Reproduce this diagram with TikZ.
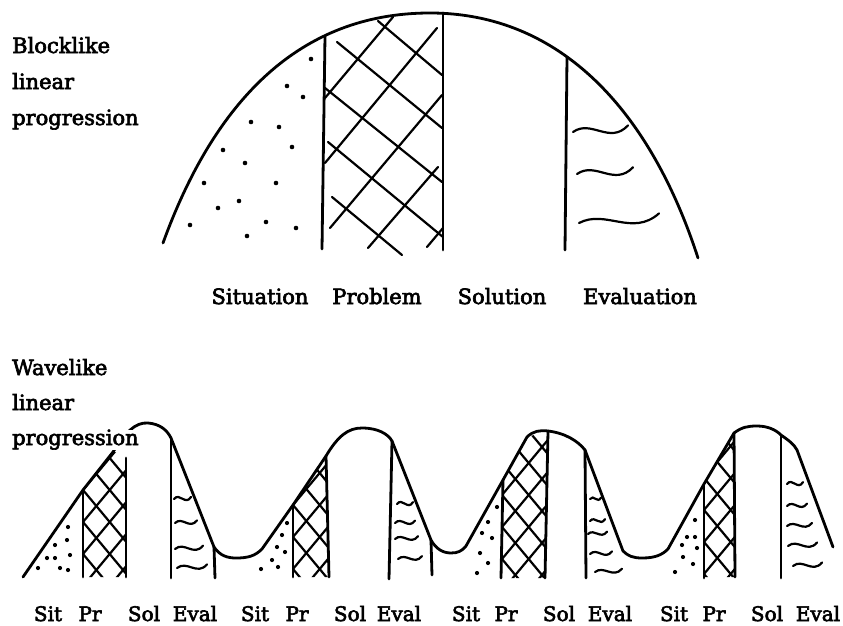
\documentclass[tikz,border=0pt]{standalone}
\usepackage{fontspec}
\setmainfont{DejaVu Serif}[FakeBold=3]
\newcommand\mytilde[4]{\draw[wav] (#1,#2) .. controls ({#1+#3/3},{#2-#4}) and ({#1+2*#3/3},{#2+#4}) .. ({#1+#3},{#2-0.12*#3});}
\newcommand\hatchlines[3]{\foreach \c in {#2,#3,...,760}{\draw[hatch] (#1,\c) -- ++(80,-96); \draw[hatch] (#1,\c) -- ++(80,96);}}
\begin{document}
\begin{tikzpicture}[x=1pt,y=-1pt,
  ln/.style={line width=2.8pt, line cap=round, line join=round},
  hatch/.style={line width=2.2pt, line cap=round},
  wav/.style={line width=2.2pt, line cap=round},
  lab/.style={font=\fontsize{21}{25}\selectfont, anchor=base west, inner sep=0pt},
  blab/.style={font=\fontsize{20}{24}\selectfont, anchor=base, inner sep=0pt}]
\useasboundingbox (0,0) rectangle (843,626);

% ---------------- Blocklike ----------------
\draw[ln] (163,243) .. controls (215,100) and (300,13) .. (430,13)
  .. controls (560,13) and (650,110) .. (698,258);
\coordinate (b1t) at (325,36);  \coordinate (b1b) at (322,249);
\coordinate (b2t) at (443,13);  \coordinate (b2b) at (443,250);
\coordinate (b3t) at (567,57);  \coordinate (b3b) at (565,250);
\draw[ln] (b1t) -- (b1b);
\draw[ln] (b2t) -- (b2b);
\draw[ln] (b3t) -- (b3b);

% dots (Situation)
\foreach \p in {(311,59),(287,86),(303,97),(251,122),(279,127),(223,150),(292,147),(245,163),(204,183),(276,183),(239,201),(218,208),(266,222),(296,228),(190,225),(247,236)}
  \fill \p circle (2.3);

% cross-hatch (Problem)
\draw[hatch] (378,21) -- (442,75);
\draw[hatch] (337,42) -- (442,128);
\draw[hatch] (325,88) -- (442,182);
\draw[hatch] (328,142) -- (443,237);
\draw[hatch] (332,197) -- (402,255);
\draw[hatch] (325,98) -- (393,17);
\draw[hatch] (325,163) -- (437,28);
\draw[hatch] (330,228) -- (442,95);
\draw[hatch] (368,248) -- (438,167);
\draw[hatch] (427,247) -- (443,228);

% waves (Evaluation)
\mytilde{573}{132}{55}{13}
\mytilde{577}{174}{56}{13}
\mytilde{579}{223}{80}{14}

\node[lab] (bl1) at (12,53) {Blocklike};
\node[lab] (bl2) at (12,89) {linear};
\node[lab] (bl3) at (12,125) {progression};

\node[blab, font=\fontsize{21}{25}\selectfont] (sit) at (260,304) {Situation};
\node[blab, font=\fontsize{21}{25}\selectfont] (pro) at (377,304) {Problem};
\node[blab, font=\fontsize{21}{25}\selectfont] (sol) at (502,304) {Solution};
\node[blab, font=\fontsize{21}{25}\selectfont] (eva) at (640,304) {Evaluation};

% ---------------- Wavelike ----------------
% hatching
\begin{scope}
  \clip (83,490) -- (113,452) -- (126,452) -- (126,577) -- (83,577) -- cycle;
  \hatchlines{83}{330}{362}
\end{scope}
\begin{scope}
  \clip (293,505) -- (326,456) -- (328,577) -- (293,577) -- cycle;
  \hatchlines{293}{345}{377}
\end{scope}
\begin{scope}
  \clip (503,480) -- (527,437) -- (548,431) -- (546,578) -- (502,578) -- cycle;
  \hatchlines{502}{335}{367}
\end{scope}
\begin{scope}
  \clip (704,484) -- (734,433) -- (735,577) -- (704,577) -- cycle;
  \hatchlines{704}{350}{382}
\end{scope}

% outline
\draw[ln] (23,577) -- (83,490) -- (113,452)
  .. controls (125,433) and (135,422) .. (148,423)
  .. controls (160,424) and (167,430) .. (171,438)
  -- (214,547)
  .. controls (220,556) and (228,558) .. (236,558)
  .. controls (248,558) and (255,556) .. (262,549)
  -- (293,505) -- (326,456)
  .. controls (338,436) and (348,428) .. (362,428)
  .. controls (378,428) and (388,434) .. (392,441)
  -- (431,540)
  .. controls (436,549) and (443,553) .. (451,553)
  .. controls (458,553) and (462,551) .. (466,546)
  -- (503,480) -- (527,437)
  .. controls (533,431) and (540,430) .. (548,431)
  .. controls (565,433) and (578,441) .. (585,450)
  -- (623,551)
  .. controls (628,556) and (633,558) .. (642,558)
  .. controls (655,558) and (662,555) .. (668,549)
  -- (704,484) -- (734,433)
  .. controls (742,427) and (748,426) .. (757,426)
  .. controls (768,426) and (776,430) .. (781,435)
  .. controls (788,440) and (794,444) .. (797,450)
  -- (833,547);

% dividers
\draw[ln] (83,490) -- (83,577);
\draw[ln] (126,458) -- (126,577);
\draw[ln] (171,438) -- (171,578);
\draw[ln] (214,547) -- (215,578);
\draw[ln] (293,505) -- (293,577);
\draw[ln] (326,456) -- (329,577);
\draw[ln] (392,441) -- (389,579);
\draw[ln] (431,540) -- (432,575);
\draw[ln] (503,480) -- (501,578);
\draw[ln] (548,431) -- (545,578);
\draw[ln] (585,450) -- (586,578);
\draw[ln] (704,484) -- (704,578);
\draw[ln] (734,433) -- (735,577);
\draw[ln] (781,435) -- (781,578);

% dots
\foreach \p in {(68,527),(67,540),(55,545),(47,558),(55,558),(70,555),(38,568),(60,568),(68,570),
                (287,523),(282,535),(277,547),(285,552),(272,560),(278,567),(261,569),
                (497,507),(488,522),(482,533),(492,538),(480,553),(488,563),(477,573),
                (695,520),(687,537),(695,537),(682,545),(697,548),(683,557),(693,564),(675,572)}
  \fill \p circle (2.1);

% tildes
\mytilde{174}{499}{17}{7}
\mytilde{175}{523}{22}{7}
\mytilde{175}{549}{28}{8}
\mytilde{177}{568}{30}{8}
\mytilde{397}{504}{16}{7}
\mytilde{395}{523}{20}{7}
\mytilde{395}{539}{23}{7}
\mytilde{398}{559}{24}{7}
\mytilde{590}{499}{11}{5}
\mytilde{590}{521}{15}{6}
\mytilde{588}{534}{19}{6}
\mytilde{590}{554}{22}{7}
\mytilde{595}{572}{27}{7}
\mytilde{787}{484}{16}{7}
\mytilde{787}{506}{20}{7}
\mytilde{787}{526}{25}{7}
\mytilde{788}{546}{29}{8}
\mytilde{793}{566}{29}{8}

\node[lab] (wl1) at (12,375) {Wavelike};
\node[lab] (wl2) at (12,410) {linear};
\node[lab, fill=white] (wl3) at (12,445) {progression};

% bottom labels
\foreach \x/\t [count=\i] in {48/Sit,90/Pr,144/Sol,195/Eval,255/Sit,297/Pr,350/Sol,399/Eval,466/Sit,506/Pr,559/Sol,610/Eval,674/Sit,714/Pr,767/Sol,818/Eval}
  \node[blab] (bot\i) at (\x,621) {\t};
\end{tikzpicture}
\end{document}
